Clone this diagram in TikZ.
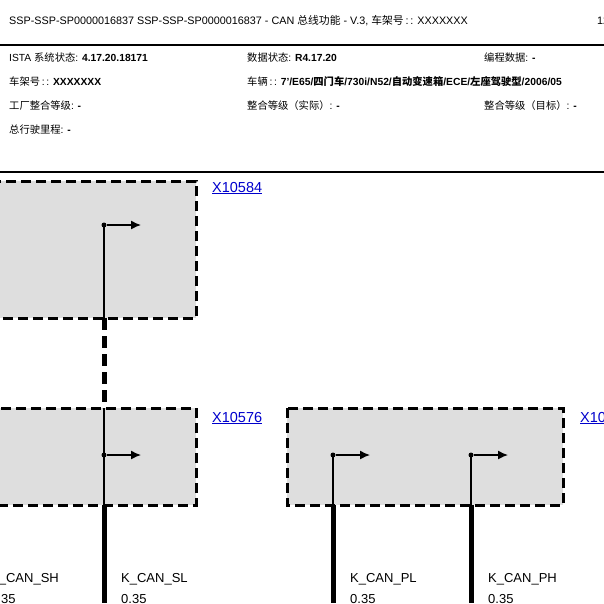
\documentclass[tikz,border=0pt]{standalone}
\usepackage{fontspec}
\usetikzlibrary{arrows.meta}
\setmainfont{Liberation Sans}
\newfontfamily\cjk{Noto Sans CJK SC}
\begin{document}
\begin{tikzpicture}[x=1pt,y=-1pt,
  hdr/.style={anchor=base west,inner sep=0pt,font=\fontsize{10.8}{12}\selectfont},
  row/.style={anchor=base west,inner sep=0pt,font=\fontsize{10.3}{12}\selectfont},
  box/.style={draw,fill=black!13,line width=3pt,dash pattern=on 10pt off 5pt},
  lnk/.style={anchor=base west,inner sep=0pt,text=blue!80!black,font=\fontsize{14.5}{16}\selectfont},
  wlab/.style={anchor=base west,inner sep=0pt,font=\fontsize{13}{16}\selectfont},
  dot/.style={circle,fill,inner sep=0pt,minimum size=5pt},
  thinw/.style={line width=1.4pt},
  thickw/.style={line width=5pt},
  arr/.style={thinw,-{Latex[length=10pt,width=9pt]}}]
\useasboundingbox (0,0) rectangle (604,603);
\clip (0,0) rectangle (604,603);
\node[hdr] (t) at (9,24) {SSP-SSP-SP0000016837 SSP-SSP-SP0000016837 - CAN {\cjk 总线功能} - V.3, {\cjk 车架号}\,:\,: XXXXXXX};
\node[hdr] (pg) at (597,24) {12};
\draw[line width=2.2pt] (0,45) -- (604,45);
\node[row] (a1) at (9,61) {ISTA {\cjk 系统状态}: \textbf{4.17.20.18171}};
\node[row] (a2) at (247,61) {{\cjk 数据状态}: \textbf{R4.17.20}};
\node[row] (a3) at (484,61) {{\cjk 编程数据}: \textbf{-}};
\node[row] (b1) at (9,85) {{\cjk 车架号}\,:\,: \textbf{XXXXXXX}};
\node[row] (b2) at (247,85) {{\cjk 车辆}\,:\,: \textbf{7'/E65/{\cjk\bfseries 四门车}/730i/N52/{\cjk\bfseries 自动变速箱}/ECE/{\cjk\bfseries 左座驾驶型}/2006/05}};
\node[row] (c1) at (9,109) {{\cjk 工厂整合等级}: \textbf{-}};
\node[row] (c2) at (247,109) {{\cjk 整合等级（实际）}: \textbf{-}};
\node[row] (c3) at (484,109) {{\cjk 整合等级（目标）}: \textbf{-}};
\node[row] (d1) at (9,133) {{\cjk 总行驶里程}: \textbf{-}};
\draw[line width=2.2pt] (0,172) -- (604,172);
% boxes
\draw[box] (-10,181) rectangle (196,318);
\draw[box] (-10,408) rectangle (196,505);
\draw[box] (287,408) rectangle (563,505);
\node[lnk] (l1) at (212,192) {\underline{X10584}};
\node[lnk] (l2) at (212,422) {\underline{X10576}};
\node[lnk] (l3) at (580,422) {\underline{X10584}};
% connectors
\node[dot] (p1) at (104,225) {};
\node[dot] (p2) at (104,455) {};
\node[dot] (p3) at (333,455) {};
\node[dot] (p4) at (471,455) {};
\coordinate (q1) at (141,225);
\coordinate (q2) at (141,455);
\coordinate (q3) at (370,455);
\coordinate (q4) at (508,455);
\coordinate (e1) at (104,318);
\coordinate (e2) at (104,408);
\coordinate (e3) at (104,505);
\coordinate (e4) at (333,505);
\coordinate (e5) at (471,505);
\coordinate (f3) at (104,603);
\coordinate (f4) at (333,603);
\coordinate (f5) at (471,603);
\draw[arr] (p1) -- (q1);
\draw[arr] (p2) -- (q2);
\draw[arr] (p3) -- (q3);
\draw[arr] (p4) -- (q4);
\draw[thinw] (p1.center) -- (e1);
\draw[line width=5pt,dash pattern=on 12pt off 6pt] (e1) -- (e2);
\draw[thinw] (e2) -- (e3);
\draw[thinw] (p3.center) -- (e4);
\draw[thinw] (p4.center) -- (e5);
\draw[thickw] (e3) -- (f3);
\draw[thickw] (e4) -- (f4);
\draw[thickw] (e5) -- (f5);
% wire labels
\node[wlab] (w0) at (-10,582) {K\_CAN\_SH};
\node[wlab] (w0b) at (-10,603) {0.35};
\node[wlab] (w1) at (121,582) {K\_CAN\_SL};
\node[wlab] (w1b) at (121,603) {0.35};
\node[wlab] (w2) at (350,582) {K\_CAN\_PL};
\node[wlab] (w2b) at (350,603) {0.35};
\node[wlab] (w3) at (488,582) {K\_CAN\_PH};
\node[wlab] (w3b) at (488,603) {0.35};
\end{tikzpicture}
\end{document}
